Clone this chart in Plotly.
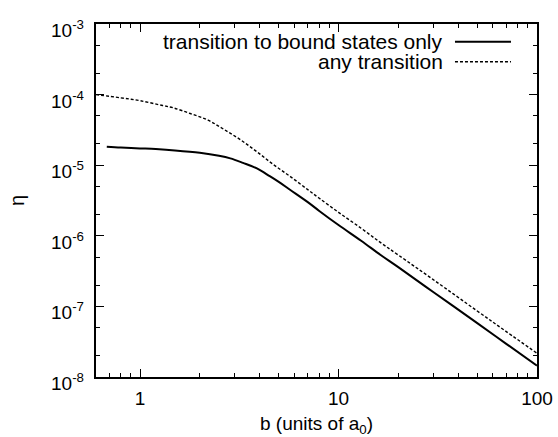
import math
import plotly.graph_objects as go

# --- data ---
b_bound = [0.68, 0.8, 1.0, 1.2, 1.5, 2.0, 2.5, 2.85, 3.3, 3.88, 4.5, 5.0, 5.72,
           7.0, 8.0, 10.0, 13.0, 16.3, 20.0, 30.0, 50.0, 70.0, 100.0]
eta_bound = [1.83e-5, 1.78e-5, 1.73e-5, 1.69e-5, 1.62e-5, 1.50e-5, 1.36e-5, 1.25e-5,
             1.08e-5, 9.0e-6, 7.0e-6, 5.8e-6, 4.46e-6, 3.0e-6, 2.25e-6, 1.42e-6,
             8.5e-7, 5.35e-7, 3.6e-7, 1.6e-7, 5.8e-8, 2.95e-8, 1.45e-8]

b_any = [0.6, 0.8, 1.0, 1.3, 1.47, 1.79, 2.2, 2.63, 3.2, 3.88, 4.7, 5.72, 7.0, 8.0,
         10.0, 13.0, 16.3, 20.0, 30.0, 50.0, 70.0, 100.0]
eta_any = [1.0e-4, 9.0e-5, 8.2e-5, 7.0e-5, 6.5e-5, 5.4e-5, 4.35e-5, 3.25e-5, 2.3e-5,
           1.55e-5, 1.02e-5, 6.9e-6, 4.5e-6, 3.4e-6, 2.15e-6, 1.28e-6, 8.0e-7,
           5.35e-7, 2.4e-7, 8.6e-8, 4.4e-8, 2.17e-8]

label_bound = "transition to bound states only"
label_any = "any transition"

x_tickvals = [1, 10, 100]
x_ticktext = ["1", "10", "100"]
x_minor = [0.6, 0.7, 0.8, 0.9, 2, 3, 4, 5, 6, 7, 8, 9, 20, 30, 40, 50, 60, 70, 80, 90]

y_exponents = [-8, -7, -6, -5, -4, -3]
y_tickvals = [10.0 ** e for e in y_exponents]
y_ticktext = ["10<sup>%d</sup>" % e for e in y_exponents]
y_minor = [m * 10.0 ** e for e in y_exponents[:-1] for m in (2, 5)]

FONT = "Liberation Sans, Arial, Helvetica, sans-serif"

fig = go.Figure()
fig.add_trace(go.Scatter(x=b_bound, y=eta_bound, mode="lines", name=label_bound,
                         line=dict(color="black", width=2, shape="spline", smoothing=1.0)))
fig.add_trace(go.Scatter(x=b_any, y=eta_any, mode="lines", name=label_any,
                         line=dict(color="black", width=1.4, dash="3px,2px",
                                   shape="spline", smoothing=1.0)))

axis_common = dict(
    showline=True, linecolor="black", linewidth=1.5, mirror="allticks",
    ticks="inside", ticklen=8, tickwidth=1.2, tickcolor="black",
    showgrid=False, zeroline=False, automargin=False,
    tickfont=dict(family=FONT, size=19, color="black"),
)

fig.update_xaxes(type="log", range=[-0.2218, 2.0], tickmode="array",
                 tickvals=x_tickvals, ticktext=x_ticktext, ticklabelstandoff=3,
                 minor=dict(tickmode="array", tickvals=x_minor, ticks="inside",
                            ticklen=4, tickwidth=1.2, tickcolor="black"),
                 title=dict(text="b (units of a<sub>0</sub>)", standoff=28,
                            font=dict(family=FONT, size=19, color="black")),
                 **axis_common)
fig.update_yaxes(type="log", range=[-8, -3], tickmode="array",
                 tickvals=y_tickvals, ticktext=y_ticktext, showticklabels=False,
                 minor=dict(tickmode="array", tickvals=y_minor, ticks="inside",
                            ticklen=4, tickwidth=1.2, tickcolor="black"),
                 title=dict(text="η", standoff=64,
                            font=dict(family=FONT, size=20, color="black")),
                 **axis_common)

# y tick labels (gnuplot puts the mantissa centred on the tick);
# annotation positions on a log axis are given in log10 units
for v, t in zip(y_tickvals, y_ticktext):
    fig.add_annotation(x=0, xref="paper", y=math.log10(v), yref="y", text=t,
                       showarrow=False, xanchor="right", yanchor="middle",
                       xshift=-10, yshift=-5,
                       font=dict(family=FONT, size=19, color="black"))

# gnuplot-style legend: text right-aligned, sample line to its right
legend_rows = [(label_bound, 0.95, "solid", 2), (label_any, 0.893, "3px,2px", 1.4)]
for text, yy, dash, w in legend_rows:
    fig.add_annotation(x=0.784, y=yy, xref="paper", yref="paper", text=text,
                       showarrow=False, xanchor="right", yanchor="middle", xshift=2,
                       borderpad=0,
                       font=dict(family=FONT, size=21, color="black"))
    fig.add_shape(type="line", xref="paper", yref="paper", x0=0.814, x1=0.941,
                  y0=yy, y1=yy, line=dict(color="black", width=w, dash=dash))

fig.update_layout(
    width=558, height=437,
    margin=dict(l=96, r=21, t=24, b=60),
    paper_bgcolor="white", plot_bgcolor="white",
    showlegend=False,
    font=dict(family=FONT, color="black"),
)

fig.write_html("out.html")
